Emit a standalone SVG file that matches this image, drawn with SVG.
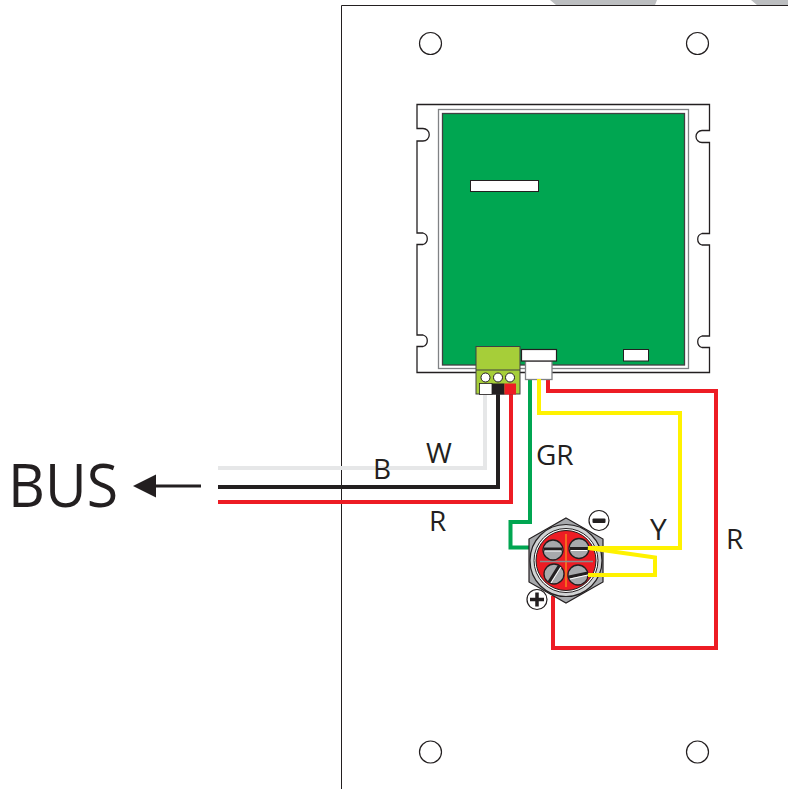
<svg xmlns="http://www.w3.org/2000/svg" width="788" height="789" viewBox="0 0 788 789">
<style>
.t{font-family:"Open Sans","Noto Sans",sans-serif;fill:#231f20}
.hole{fill:#fff;stroke:#231f20;stroke-width:1.2}
.w{fill:none;stroke-width:4;stroke-linejoin:miter}
.screw{fill:#a7a9ac;stroke:#231f20;stroke-width:1.3}
.slot{stroke:#231f20;stroke-width:3}
.slot2{stroke:#fff;stroke-width:1}
</style>
<rect width="788" height="789" fill="#fff"/>
<g id="panel">
<path d="M550 0L556 5H655L657 0ZM751 0L757 5H788V0Z" fill="#bcbec0"/>
<path d="M341.500 789V5.500H788" fill="none" stroke="#231f20" stroke-width="1"/>
<circle class="hole" cx="430.500" cy="43.500" r="11"/>
<circle class="hole" cx="697.500" cy="43.500" r="11"/>
<circle class="hole" cx="430.500" cy="752" r="11"/>
<circle class="hole" cx="697.500" cy="752" r="11"/>
</g>
<g id="board">
<path d="M417 104.500H709.500V130.500H702a6 6 0 0 0 0 12H709.500V233.500H702a6 6 0 0 0 0 11.500H709.500V336H702a6 6 0 0 0 0 11.500H709.500V372.500H417V346.500H423a6 6 0 0 0 0-11.500H417V244.500H423a6 6 0 0 0 0-11.500H417V141H423a6 6 0 0 0 0-12.500H417Z" fill="#fff" stroke="#231f20" stroke-width="1.300"/>
<rect x="438.500" y="109.500" width="250" height="259" fill="#fff" stroke="#808285" stroke-width="1.300"/>
<rect x="442.500" y="113.500" width="242" height="251.500" fill="#00a651" stroke="#414042" stroke-width="1.300"/>
<rect x="470.500" y="180.500" width="68" height="11" fill="#fff" stroke="#231f20" stroke-width="1"/>
<rect x="623.500" y="349.500" width="25" height="11.500" fill="#fff" stroke="#231f20" stroke-width="1"/>
</g>
<g id="connectors">
<path class="w" stroke="#e6e7e8" d="M485 394V468H218"/>
<path class="w" stroke="#231f20" d="M498 394V487H218"/>
<path class="w" stroke="#ed1c24" d="M511 394V502H218"/>
<path class="w" stroke="#00a651" d="M530 379V522H510.500V547.500H532"/>
<path class="w" stroke="#ed1c24" d="M548 379V391H716V648H553V596"/>
<path d="M201 486H150" stroke="#231f20" stroke-width="3" fill="none"/>
<path d="M133 486L156 474.500V497.500Z" fill="#231f20"/>
</g>
<g id="terminal-block">
<rect x="476" y="346.500" width="44" height="47.500" fill="#a6ce39" stroke="#414042" stroke-width="1"/>
<path d="M476 370H520" stroke="#414042" stroke-width="1"/>
<circle cx="485.500" cy="377.500" r="4.500" fill="#fff" stroke="#231f20"/>
<circle cx="498" cy="377.500" r="4.500" fill="#fff" stroke="#231f20"/>
<circle cx="510" cy="377.500" r="4.500" fill="#fff" stroke="#231f20"/>
<rect x="479.500" y="383.500" width="12.500" height="11" fill="#fff" stroke="#231f20" stroke-width=".8"/>
<rect x="492" y="383.500" width="12.500" height="11" fill="#231f20"/>
<rect x="504.500" y="383.500" width="11.500" height="11" fill="#ed1c24"/>
</g>
<g id="plug">
<rect x="525.500" y="361" width="26.500" height="18.500" fill="#fff" stroke="#808285" stroke-width="1.300"/>
<rect x="521.500" y="349.500" width="35" height="11.500" fill="#fff" stroke="#231f20" stroke-width="1.200"/>
</g>
<g id="switch">
<path d="M566 518L603 539V582L566 603L529 582V539Z" fill="#a7a9ac" stroke="#231f20" stroke-width="1.200"/>
<circle cx="566" cy="560.500" r="36" fill="#d1d3d4" stroke="#231f20" stroke-width="1.200"/>
<circle cx="566" cy="560.500" r="32" fill="#fff" stroke="#231f20"/>
<circle cx="566" cy="560.500" r="30" fill="#ed1c24" stroke="#231f20"/>
<path d="M566 534V587" stroke="#f7941d" stroke-width="1.300"/>
<path d="M540 561.500H593" stroke="#8a8c8e" stroke-width="1.500"/>
<circle class="screw" cx="553" cy="550" r="10"/>
<path class="slot" d="M544 549H562"/><path class="slot2" d="M545 551H561"/>
<circle class="screw" cx="579" cy="548.500" r="10"/>
<path class="slot" d="M570 548.500H588"/><path class="slot2" d="M571 550.500H587"/>
<circle class="screw" cx="554" cy="574" r="10"/>
<path class="slot" d="M549 582L559 566"/><path class="slot2" d="M551 583L561 567"/>
<circle class="screw" cx="578" cy="575" r="10"/>
<path class="slot" d="M569 577L588 573"/><path class="slot2" d="M570 579L588 575"/>
</g>
<g id="yellow-wire"><path class="w" stroke="#fff200" d="M539 379V413H680V548H588L655 557.500V575H588"/></g>
<g id="minus"><circle cx="599" cy="520.500" r="10" fill="#fff" stroke="#231f20" stroke-width="1.200"/><rect x="592.500" y="518.500" width="13" height="4.500" rx="1" fill="#231f20"/></g>
<g id="plus"><circle cx="537" cy="599.500" r="10" fill="#fff" stroke="#231f20" stroke-width="1.200"/><path d="M530 599.500H544M537 592.500V606.500" stroke="#231f20" stroke-width="3.500"/></g>
<g id="labels">
<text class="t" x="8" y="506.500" font-size="60" textLength="110" lengthAdjust="spacingAndGlyphs">BUS</text>
<text class="t" x="426" y="463" font-size="28">W</text>
<text class="t" x="373" y="479" font-size="28">B</text>
<text class="t" x="429" y="531" font-size="28">R</text>
<text class="t" x="536" y="465" font-size="28">GR</text>
<text class="t" x="650" y="540" font-size="30">Y</text>
<text class="t" x="726" y="549" font-size="28">R</text>
</g>
</svg>
